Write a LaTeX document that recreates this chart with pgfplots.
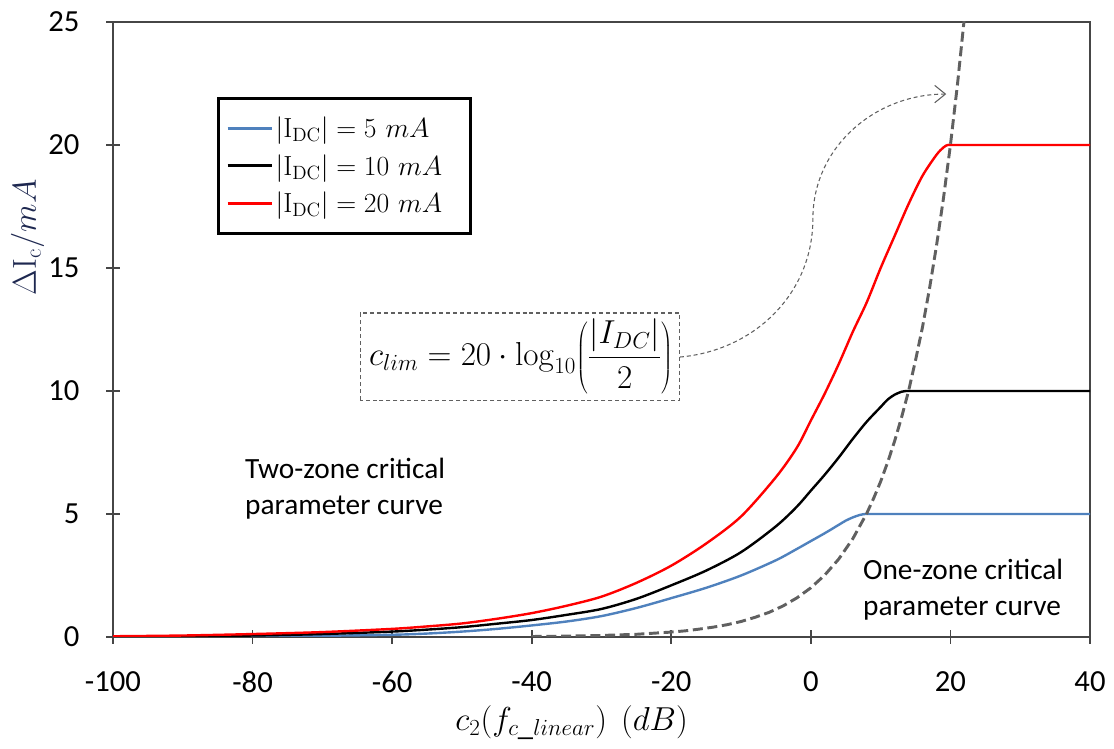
\documentclass[border=0pt]{standalone}
\usepackage{pgfplots}
\pgfplotsset{compat=1.18}
\usepackage[no-math]{fontspec}
\setmainfont{Carlito}
\usetikzlibrary{arrows.meta}

\definecolor{serblue}{RGB}{79,129,189}
\definecolor{serred}{RGB}{255,0,0}
\definecolor{limgray}{RGB}{96,96,96}
\definecolor{axgray}{RGB}{70,70,70}
\definecolor{labnavy}{RGB}{30,40,80}

\begin{document}
\begin{tikzpicture}
\useasboundingbox (-84.75pt,-84pt) rectangle (750.75pt,477.75pt);
\begin{axis}[
  scale only axis,
  width=732.75pt, height=461.25pt,
  xmin=-100, xmax=40, ymin=0, ymax=25,
  xtick={-100,-80,...,40}, ytick={0,5,...,25},
  xtick pos=left, ytick pos=left,
  tick align=center,
  major tick length=10pt,
  every tick/.style={draw=axgray, line width=1.2pt},
  axis line style={draw=axgray, line width=1.5pt},
  /pgf/number format/assume math mode=true,
  ticklabel style={font=\fontsize{23}{27}\selectfont, text=black},
  xticklabel style={inner sep=0pt, anchor=north, yshift=-21pt},
  yticklabel style={inner sep=0pt, anchor=east, xshift=-20pt},
  legend style={at={(axis cs:-85.1,21.95)}, anchor=north west,
    draw=black, line width=2pt, fill=white,
    inner xsep=6pt, inner ysep=12pt, row sep=7pt,
    font=\fontsize{20}{24}\selectfont},
  legend cell align=left,
  /tikz/every even column/.append style={text width=138pt},
  legend image code/.code={\draw[#1, line width=2pt] (0pt,0pt) -- (33pt,0pt);},
]

% |I_DC| = 5 mA
\addplot[color=serblue, line width=1.8pt, smooth, tension=0.5] coordinates {
  (-100,0.01) (-90,0.02) (-80,0.03) (-70,0.05) (-60,0.09) (-55,0.14)
  (-50,0.22) (-45,0.33) (-40,0.47) (-35,0.63) (-30,0.85) (-25,1.18)
  (-20,1.58) (-15,2.0) (-10,2.5) (-5,3.12) (-2,3.58) (0,3.9)
  (2,4.22) (4,4.56) (5,4.73) (6,4.86) (7,4.96) (7.8,5) (8.5,5) (10,5) (40,5)
};
\addlegendentry{$|\mathrm{I}_{\mathrm{DC}}| = 5\ mA$}

% |I_DC| = 10 mA
\addplot[color=black, line width=1.8pt, smooth, tension=0.5] coordinates {
  (-100,0.02) (-90,0.03) (-80,0.06) (-70,0.12) (-60,0.22) (-55,0.3)
  (-50,0.4) (-45,0.54) (-40,0.69) (-35,0.9) (-30,1.14) (-25,1.55)
  (-20,2.1) (-15,2.7) (-10,3.45) (-5,4.5) (-2,5.3) (0,5.95)
  (2,6.6) (4,7.3) (6,8.05) (8,8.75) (10,9.35) (11,9.65) (12,9.85)
  (13,9.97) (13.6,10) (14.3,10) (16,10) (40,10)
};
\addlegendentry{$|\mathrm{I}_{\mathrm{DC}}| = 10\ mA$}

% |I_DC| = 20 mA
\addplot[color=serred, line width=1.8pt, smooth, tension=0.5] coordinates {
  (-100,0.03) (-90,0.06) (-80,0.12) (-70,0.2) (-60,0.33) (-55,0.43)
  (-50,0.55) (-45,0.74) (-40,0.97) (-35,1.27) (-30,1.64) (-25,2.2)
  (-20,2.9) (-15,3.8) (-10,4.9) (-5,6.5) (-2,7.7) (0,8.8)
  (2,9.9) (4,11.1) (6,12.4) (8,13.6) (10,15.0) (12,16.3) (14,17.6)
  (16,18.75) (18,19.6) (19,19.9) (19.6,20) (20.3,20) (22,20) (40,20)
};
\addlegendentry{$|\mathrm{I}_{\mathrm{DC}}| = 20\ mA$}

% critical limit c_lim
\addplot[color=limgray, line width=2.2pt, dash pattern=on 7.5pt off 3.5pt, forget plot] coordinates {
  (-40,0.02) (-35,0.036) (-30,0.063) (-25,0.11) (-20,0.2) (-18,0.25)
  (-16,0.32) (-14,0.4) (-12,0.5) (-10,0.63) (-8,0.8) (-6,1.0)
  (-4,1.26) (-2,1.59) (0,2.0) (2,2.52) (4,3.17) (6,3.99) (8,5.02)
  (9,5.64) (10,6.32) (11,7.1) (12,7.96) (13,8.93) (14,10.0)
  (15,11.25) (16,12.6) (17,14.16) (18,15.9) (19,17.83) (20,20.0)
  (21,22.44) (22,25.18)
};

% annotation
\draw[limgray, line width=0.8pt, dash pattern=on 3pt off 2.2pt]
  (axis cs:-64.6,9.63) rectangle (axis cs:-18.77,13.17);
\node[inner sep=0pt] at (axis cs:-41.5,11.42)
  {\fontsize{23.5}{28}\selectfont$\displaystyle c_{lim} = 20\cdot\log_{10}\!\left(\frac{|I_{DC}|}{2}\right)$};
\draw[limgray, line width=0.8pt, dash pattern=on 3pt off 2.2pt,
      -{Straight Barb[length=8pt,width=13pt]}]
  (axis cs:-18.77,11.38) to[out=5,in=-90] (axis cs:0.29,17.0)
  to[out=90,in=180] (axis cs:19.4,22.07);

\node[anchor=west, align=left, inner sep=0pt, font=\fontsize{22}{27}\selectfont]
  at (axis cs:-81.1,6.02) {Two-zone critical\\parameter curve};
\node[anchor=west, align=left, inner sep=0pt, font=\fontsize{22}{27}\selectfont]
  at (axis cs:7.45,1.91) {One-zone critical\\parameter curve};
\end{axis}

% axis titles
\node[rotate=90, text=labnavy, inner sep=0pt] at (-64pt,299.8pt)
  {\fontsize{24}{28}\selectfont$\Delta\mathrm{I}_{\mathrm{c}}/mA$};
\node[inner sep=0pt] at (343.9pt,-64.5pt)
  {\fontsize{23}{27}\selectfont$c_2\bigl(f_{c\_linear}\bigr)\ \ (dB)$};
\end{tikzpicture}
\end{document}
